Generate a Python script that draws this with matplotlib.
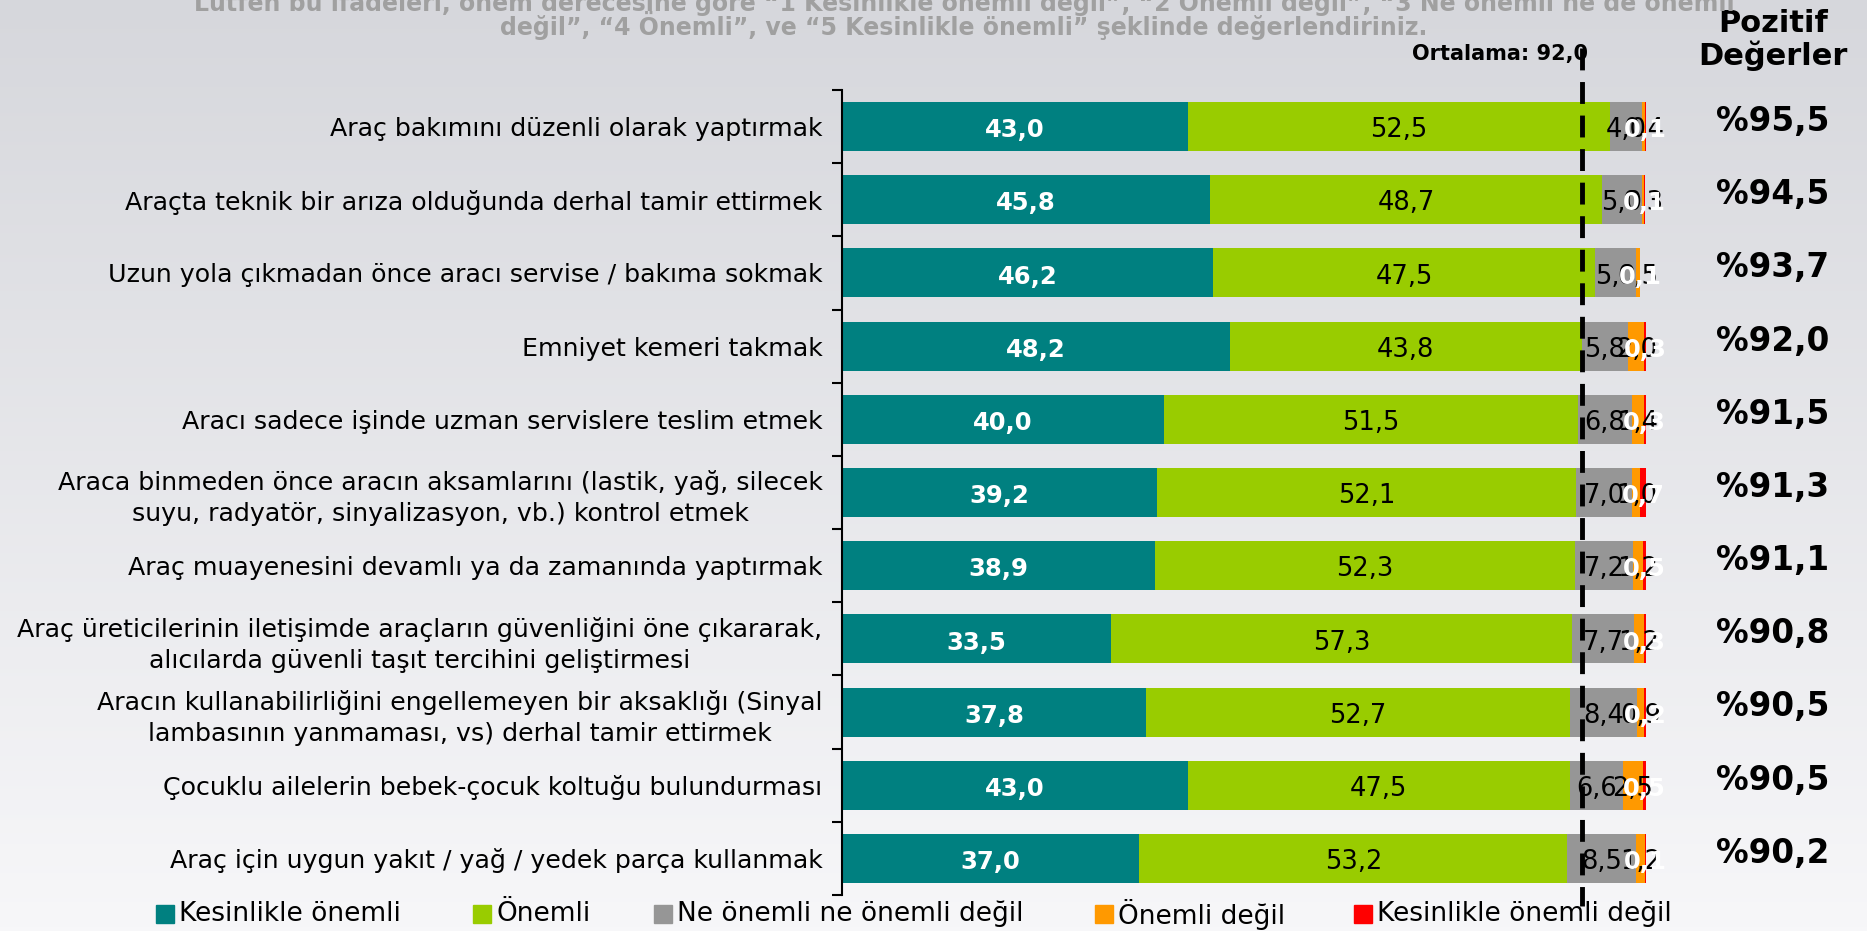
import numpy as np
import matplotlib
matplotlib.use("Agg")
import matplotlib.pyplot as plt
from matplotlib.patches import Rectangle
from matplotlib.transforms import blended_transform_factory

categories = [
    "Araç bakımını düzenli olarak yaptırmak",
    "Araçta teknik bir arıza olduğunda derhal tamir ettirmek",
    "Uzun yola çıkmadan önce aracı servise / bakıma sokmak",
    "Emniyet kemeri takmak",
    "Aracı sadece işinde uzman servislere teslim etmek",
    "Araca binmeden önce aracın aksamlarını (lastik, yağ, silecek\nsuyu, radyatör, sinyalizasyon, vb.) kontrol etmek",
    "Araç muayenesini devamlı ya da zamanında yaptırmak",
    "Araç üreticilerinin iletişimde araçların güvenliğini öne çıkararak,\nalıcılarda güvenli taşıt tercihini geliştirmesi",
    "Aracın kullanabilirliğini engellemeyen bir aksaklığı (Sinyal\nlambasının yanmaması, vs) derhal tamir ettirmek",
    "Çocuklu ailelerin bebek-çocuk koltuğu bulundurması",
    "Araç için uygun yakıt / yağ / yedek parça kullanmak",
]
series_names = ["Kesinlikle önemli", "Önemli", "Ne önemli ne önemli değil",
                "Önemli değil", "Kesinlikle önemli değil"]
kesinlikle_onemli = [43.0, 45.8, 46.2, 48.2, 40.0, 39.2, 38.9, 33.5, 37.8, 43.0, 37.0]
onemli = [52.5, 48.7, 47.5, 43.8, 51.5, 52.1, 52.3, 57.3, 52.7, 47.5, 53.2]
ne_ne = [4.0, 5.0, 5.0, 5.8, 6.8, 7.0, 7.2, 7.7, 8.4, 6.6, 8.5]
onemli_degil = [0.4, 0.3, 0.5, 2.0, 1.4, 1.0, 1.2, 1.2, 0.9, 2.5, 1.2]
kesinlikle_degil = [0.1, 0.1, 0.1, 0.3, 0.3, 0.7, 0.5, 0.3, 0.2, 0.5, 0.1]
pozitif = ["%95,5", "%94,5", "%93,7", "%92,0", "%91,5", "%91,3", "%91,1",
           "%90,8", "%90,5", "%90,5", "%90,2"]
ortalama = 92.0

colors = ["#008080", "#99CC00", "#969696", "#FF9900", "#FF0000"]
label_colors = ["white", "black", "black", "black", "white"]
label_weights = ["bold", "normal", "normal", "normal", "bold"]
label_sizes = [17.5, 18.5, 18.5, 18.5, 17.5]

W, H = 1867, 931
fig = plt.figure(figsize=(W / 100, H / 100), dpi=100)

# background gradient
bg = fig.add_axes([0, 0, 1, 1], zorder=-10)
grad = np.linspace(0, 1, 256).reshape(-1, 1)
top = np.array([214, 215, 220]) / 255
bot = np.array([247, 247, 249]) / 255
img = top[None, None, :] * (1 - grad[:, :, None]) + bot[None, None, :] * grad[:, :, None]
bg.imshow(img, aspect="auto", extent=[0, 1, 0, 1])
bg.set_axis_off()

ax = fig.add_axes([842 / W, 1 - 895 / H, 804 / W, 805 / H])
ax.patch.set_alpha(0)
series = [kesinlikle_onemli, onemli, ne_ne, onemli_degil, kesinlikle_degil]
y = np.arange(len(categories))
left = np.zeros(len(categories))
for vals, col, lc, lw_, fs, name in zip(series, colors, label_colors, label_weights,
                                        label_sizes, series_names):
    vals = np.array(vals)
    ax.barh(y, vals, left=left, height=0.67, color=col, label=name, zorder=2)
    for yi, (l, v) in enumerate(zip(left, vals)):
        ax.text(l + v / 2, yi + 0.05, f"{v:.1f}".replace(".", ","), ha="center", va="center",
                color=lc, fontweight=lw_, fontsize=fs, zorder=4)
    left = left + vals

ax.set_xlim(0, 100)
ax.set_ylim(len(categories) - 0.5, -0.5)
ax.set_yticks(y)
ax.set_yticklabels(categories, fontsize=18.2)
for t in ax.get_yticklabels():
    t.set_multialignment("center")
    t.set_linespacing(1.35)
ax.tick_params(axis="y", which="major", length=0, pad=14)
ax.set_yticks(np.arange(-0.5, len(categories), 1.0), minor=True)
ax.tick_params(axis="y", which="minor", length=7, width=1.5, direction="out")
ax.set_xticks([])
for s in ["top", "right", "bottom"]:
    ax.spines[s].set_visible(False)
ax.spines["left"].set_linewidth(1.5)

# mean dashed line
ax.plot([ortalama, ortalama], [-1.07, 10.65], color="black", lw=3.5,
        dashes=(4.5, 2.4), clip_on=False, zorder=5)

# right column values
tr = blended_transform_factory(fig.transFigure, ax.transData)
for yi, p in enumerate(pozitif):
    ax.text(1773 / W, yi - 0.07, p, transform=tr, ha="center", va="center",
            fontsize=23.5, fontweight="bold", color="black")

# headers
fig.text(1773 / W, 1 - 40 / H, "Pozitif\nDeğerler", ha="center", va="center",
         fontsize=22, fontweight="bold", linespacing=1.1)
fig.text(1500 / W, 1 - 54 / H, "Ortalama: 92,0", ha="center", va="center",
         fontsize=15, fontweight="bold")
title_color = "#a0a0a0"
fig.text(964 / W, 1 - 1 / H,
         "Lütfen bu ifadeleri, önem derecesine göre “1 Kesinlikle önemli değil”, “2 Önemli değil”, “3 Ne önemli ne de önemli",
         ha="center", va="center", fontsize=17, fontweight="bold", color=title_color)
fig.text(964 / W, 1 - 26 / H,
         "değil”, “4 Önemli”, ve “5 Kesinlikle önemli” şeklinde değerlendiriniz.",
         ha="center", va="center", fontsize=17, fontweight="bold", color=title_color)

# legend
leg_x = [156, 473, 654, 1095, 1354]
leg_y = 914
sq = 18
for x0, col, name in zip(leg_x, colors, series_names):
    fig.patches.append(Rectangle((x0 / W, (H - leg_y - sq / 2) / H), sq / W, sq / H,
                                 transform=fig.transFigure, color=col))
    fig.text((x0 + sq + 5) / W, 1 - leg_y / H, name, ha="left", va="center", fontsize=19)

fig.savefig("out.png", dpi=100)
